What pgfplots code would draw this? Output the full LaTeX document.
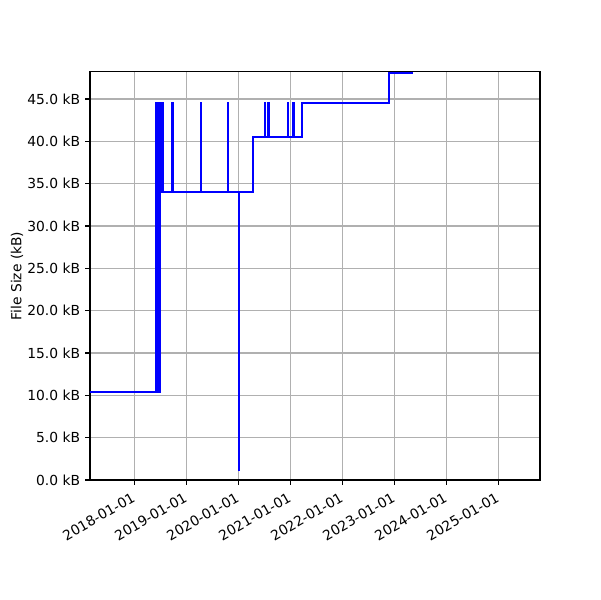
\documentclass[border=0pt]{standalone}
\usepackage{pgfplots}
\pgfplotsset{compat=1.18}
\usepackage{fontspec}
\setmainfont{DejaVu Sans}
\definecolor{gridgray}{HTML}{B0B0B0}
\begin{document}
\begin{tikzpicture}
\path[use as bounding box] (-65.04pt,-86.72pt) rectangle (368.56pt,346.88pt);
\begin{axis}[
  at={(0,0)}, anchor=south west,
  scale only axis, width=325.2pt, height=294.9pt,
  xmin=2017.148, xmax=2025.80, ymin=0, ymax=48.2,
  xtick={2018,2019,2020,2021,2022,2023,2024,2025},
  xticklabels={2018-01-01,2019-01-01,2020-01-01,2021-01-01,2022-01-01,2023-01-01,2024-01-01,2025-01-01},
  xticklabel style={rotate=30, anchor=north east, inner sep=0pt, xshift=-4.5pt, yshift=-3pt, font=\fontsize{10}{12}\selectfont},
  ytick={0,5,10,15,20,25,30,35,40,45},
  yticklabels={0.0 kB,5.0 kB,10.0 kB,15.0 kB,20.0 kB,25.0 kB,30.0 kB,35.0 kB,40.0 kB,45.0 kB},
  yticklabel style={font=\fontsize{10}{12}\selectfont, inner sep=0pt, xshift=-3.5pt},
  /pgf/number format/assume math mode=true,
  tick align=outside, major tick length=3.5pt,
  tick style={black, line width=0.8pt},
  xtick pos=bottom, ytick pos=left,
  axis line style={line width=0.8pt},
  grid=major, major grid style={gridgray, line width=0.8pt},
  ylabel={File Size (kB)},
  ylabel style={at={(axis description cs:0,0.5)}, anchor=center, yshift=52.8pt, font=\fontsize{10}{12}\selectfont},
]
\addplot[blue, line width=1.5pt, line join=miter] coordinates {
(2017.0,10.4)
(2018.417,10.4)(2018.417,44.5)(2018.425,44.5)(2018.425,10.4)(2018.435,10.4)(2018.435,44.5)(2018.445,44.5)(2018.445,10.4)(2018.46,10.4)(2018.46,44.5)(2018.47,44.5)(2018.47,10.4)(2018.49,10.4)(2018.49,44.5)(2018.50,44.5)(2018.50,34.0)(2018.51,34.0)(2018.51,44.5)(2018.525,44.5)(2018.525,34.0)(2018.535,34.0)(2018.535,44.5)(2018.545,44.5)(2018.545,34.0)
(2018.731,34.0)(2018.731,44.5)(2018.736,44.5)(2018.736,34.0)
(2019.277,34)(2019.277,44.5)(2019.282,44.5)(2019.282,34)
(2019.796,34)(2019.796,44.5)(2019.801,44.5)(2019.801,34)
(2020.008,34)(2020.008,1.2)(2020.012,1.2)(2020.012,34)
(2020.288,34)(2020.288,40.5)
(2020.513,40.5)(2020.513,44.5)(2020.52,44.5)(2020.52,40.5)(2020.578,40.5)(2020.578,44.5)(2020.585,44.5)(2020.585,40.5)
(2020.95,40.5)(2020.95,44.5)(2020.955,44.5)(2020.955,40.5)
(2021.058,40.5)(2021.058,44.5)(2021.063,44.5)(2021.063,40.5)
(2021.231,40.5)(2021.231,44.5)
(2022.898,44.5)(2022.898,48.1)
(2023.365,48.1)
};
\end{axis}
\end{tikzpicture}
\end{document}
